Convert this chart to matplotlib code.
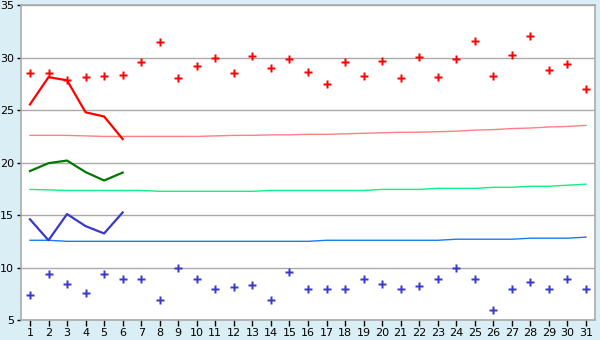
import matplotlib
matplotlib.use("Agg")
import matplotlib.pyplot as plt

days = list(range(1, 32))

max_points = [28.5, 28.5, 27.85, 28.2, 28.3, 28.4, 29.55, 31.5, 28.05, 29.2,
              29.95, 28.5, 30.15, 29.0, 29.85, 28.6, 27.45, 29.55, 28.3, 29.65,
              28.05, 30.05, 28.15, 29.85, 31.55, 28.3, 30.3, 32.05, 28.8, 29.4, 27.0]
min_points = [7.35, 9.35, 8.4, 7.55, 9.35, 8.95, 8.9, 6.95, 10.0, 8.95,
              8.0, 8.1, 8.3, 6.95, 9.55, 8.0, 8.0, 8.0, 8.95, 8.4,
              8.0, 8.2, 8.95, 9.95, 8.95, 6.0, 8.0, 8.6, 8.0, 8.95, 8.0]

line_days = [1, 2, 3, 4, 5, 6]
max_line = [25.55, 28.15, 27.85, 24.8, 24.4, 22.25]
mean_line = [19.2, 19.95, 20.2, 19.1, 18.3, 19.05]
min_line = [14.6, 12.6, 15.1, 13.95, 13.25, 15.25]

max_trend = [22.6, 22.6, 22.6, 22.55, 22.5, 22.5, 22.5, 22.5, 22.5, 22.5,
             22.55, 22.6, 22.6, 22.65, 22.65, 22.7, 22.7, 22.75, 22.8, 22.85,
             22.9, 22.9, 22.95, 23.0, 23.1, 23.15, 23.25, 23.3, 23.4, 23.45, 23.55]
mean_trend = [17.45, 17.4, 17.35, 17.35, 17.35, 17.35, 17.35, 17.27, 17.27, 17.27,
              17.27, 17.27, 17.27, 17.35, 17.35, 17.35, 17.35, 17.35, 17.35, 17.45,
              17.45, 17.45, 17.55, 17.55, 17.55, 17.65, 17.65, 17.75, 17.75, 17.85, 17.95]
min_trend = [12.6, 12.6, 12.5, 12.5, 12.5, 12.5, 12.5, 12.5, 12.5, 12.5,
             12.5, 12.5, 12.5, 12.5, 12.5, 12.5, 12.6, 12.6, 12.6, 12.6,
             12.6, 12.6, 12.6, 12.7, 12.7, 12.7, 12.7, 12.8, 12.8, 12.8, 12.9]

y_ticks = [5, 10, 15, 20, 25, 30, 35]

bg = '#d9eff5'
fig = plt.figure(figsize=(6.0, 3.4), dpi=100, facecolor=bg)
ax = fig.add_axes([20.7 / 600, 20 / 340, (595.3 - 20.7) / 600, (320 - 5.3) / 340])
ax.set_facecolor('white')

ax.plot(days, max_trend, color='#ff8080', lw=1.0, zorder=2)
ax.plot(days, mean_trend, color='#11f080', lw=1.0, zorder=2)
ax.plot(days, min_trend, color='#1a7aee', lw=1.0, zorder=2)

ax.plot(line_days, max_line, color='#ff0000', lw=1.6, zorder=3)
ax.plot(line_days, mean_line, color='#007700', lw=1.6, zorder=3)
ax.plot(line_days, min_line, color='#3838cc', lw=1.6, zorder=3)

ax.plot(days, max_points, ls='none', marker='P', ms=5.6, mec='none', color='#ff0000', zorder=4)
ax.plot(days, min_points, ls='none', marker='P', ms=5.6, mec='none', color='#3838cc', zorder=4)

ax.set_xlim(0.5, 31.5)
ax.set_ylim(5, 35)
ax.set_xticks(days)
ax.set_xticklabels([str(d) for d in days])
ax.set_yticks(y_ticks)
ax.yaxis.grid(True, color='#aaaaaa', lw=1.0, zorder=0)
ax.set_axisbelow(True)
for s in ax.spines.values():
    s.set_color('#aaaaaa')
    s.set_linewidth(1.2)
ax.tick_params(axis='x', length=4, width=1, color='black', labelsize=8, pad=2)
ax.tick_params(axis='y', length=3, width=1, color='black', labelsize=8, pad=2)

fig.savefig('out.png', dpi=100, facecolor=bg)
